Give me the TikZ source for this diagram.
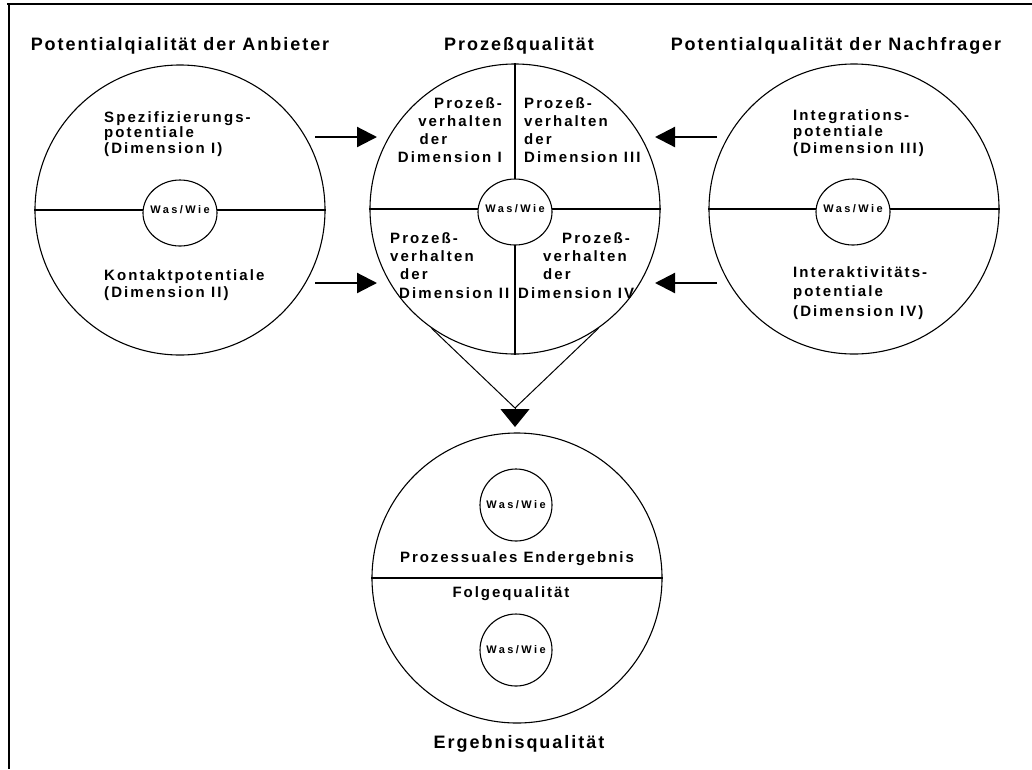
\documentclass[tikz,border=0pt]{standalone}
\usepackage{fontspec}
\setmainfont{Liberation Sans}
\usetikzlibrary{arrows.meta,shapes.geometric}
\begin{document}
\begin{tikzpicture}[x=1pt,y=-1pt,
  outer/.style={circle, draw, line width=1.1pt, minimum size=290pt, inner sep=0pt},
  innerE/.style={ellipse, draw, fill=white, line width=1.1pt, minimum width=74pt, minimum height=66pt, inner sep=0pt},
  innerC/.style={circle, draw, fill=white, line width=1.1pt, minimum size=72pt, inner sep=0pt},
  divider/.style={line width=2pt},
  frame/.style={line width=1.5pt},
  ttl/.style={font=\bfseries\fontsize{18}{20}\selectfont\addfontfeatures{LetterSpace=11}, anchor=base, inner sep=0pt},
  body/.style={font=\bfseries\fontsize{15}{#1}\selectfont\addfontfeatures{LetterSpace=14}, inner sep=0pt, anchor=base west, align=left},
  bodyR/.style={font=\bfseries\fontsize{15}{#1}\selectfont\addfontfeatures{LetterSpace=14}, inner sep=0pt, anchor=base east, align=right},
  bodyc/.style={font=\bfseries\fontsize{15}{17}\selectfont\addfontfeatures{LetterSpace=13}, inner sep=0pt, anchor=base},
  wasw/.style={font=\bfseries\fontsize{11}{13}\selectfont\addfontfeatures{LetterSpace=22}, inner sep=0pt},
  arr/.style={line width=2.2pt, -{Triangle[width=20pt,length=20pt]}},
  conv/.style={line width=1pt}
]
\useasboundingbox (0,0) rectangle (1032,769);
% frame
\draw[frame] (7,4) -- (1032,4);
\draw[frame] (9,4) -- (9,769);

% titles
\node[ttl] (t1) at (180,50) {Potentialqialität der Anbieter};
\node[ttl] (t2) at (519,50) {Prozeßqualität};
\node[ttl] (t3) at (836,50) {Potentialqualität der Nachfrager};
\node[ttl] (t4) at (519,748) {Ergebnisqualität};

% big circles
\node[outer] (L) at (180,210) {};
\node[outer] (M) at (515,209) {};
\node[outer] (R) at (854,209) {};
\node[outer] (B) at (517,578) {};

% dividers
\draw[divider] (L.west) -- (L.east);
\draw[divider] (M.west) -- (M.east);
\draw[divider] (M.north) -- (M.south);
\draw[divider] (R.west) -- (R.east);
\draw[divider] (B.west) -- (B.east);

% inner circles
\node[innerE] (Lc) at (180,213) {};
\node[wasw] (Lw) at (180,210) {Was/Wie};
\node[innerE] (Mc) at (515,212) {};
\node[wasw] (Mw) at (515,209) {Was/Wie};
\node[innerE] (Rc) at (853,212) {};
\node[wasw] (Rw) at (853,209) {Was/Wie};
\node[innerC, wasw] (B1) at (516,505) {Was/Wie};
\node[innerC, wasw] (B2) at (516,650) {Was/Wie};

% left circle texts (anchor = baseline of last line)
\node[body=15.5] (l1) at (104,153) {Spezifizierungs-\\potentiale\\(Dimension I)};
\node[body=17] (l2) at (104,297) {Kontaktpotentiale\\(Dimension II)};

% right circle texts
\node[body=16.5] (r1) at (793,153) {Integrations-\\potentiale\\(Dimension III)};
\node[body=19.5] (r2) at (793,316) {Interaktivitäts-\\potentiale\\(Dimension IV)};

% middle circle quadrants
\node[bodyR=18] (m1) at (502,162) {Prozeß-\\verhalten\\der\phantom{halten}\\Dimension I};
\node[body=18] (m2) at (524,162) {Prozeß-\\verhalten\\der\\Dimension III};
\node[body=18.3] (m3) at (390,298) {Prozeß-\\verhalten\\\hspace*{10pt}der\\\hspace*{9pt}Dimension II};
\node[body=18.3] (m4) at (518,298) {\hspace*{44pt}Prozeß-\\\hspace*{25pt}verhalten\\\hspace*{25pt}der\\Dimension IV};

% bottom circle texts
\node[bodyc] (b1) at (517,562) {Prozessuales Endergebnis};
\node[bodyc] (b2) at (511,597) {Folgequalität};

% side arrows
\coordinate (a1s) at (315,137); \coordinate (a1e) at (377,137);
\coordinate (a2s) at (315,283); \coordinate (a2e) at (377,283);
\coordinate (a3s) at (717,137); \coordinate (a3e) at (655,137);
\coordinate (a4s) at (717,283); \coordinate (a4e) at (655,283);
\draw[arr] (a1s) -- (a1e);
\draw[arr] (a2s) -- (a2e);
\draw[arr] (a3s) -- (a3e);
\draw[arr] (a4s) -- (a4e);

% convergence to result
\coordinate (apex) at (515,408);
\coordinate (btip) at (515,427);
\draw[conv] (M.235) -- (apex) -- (M.305);
\draw[line width=1pt, -{Triangle[width=29pt,length=18pt]}] (apex) -- (btip);
\end{tikzpicture}
\end{document}
